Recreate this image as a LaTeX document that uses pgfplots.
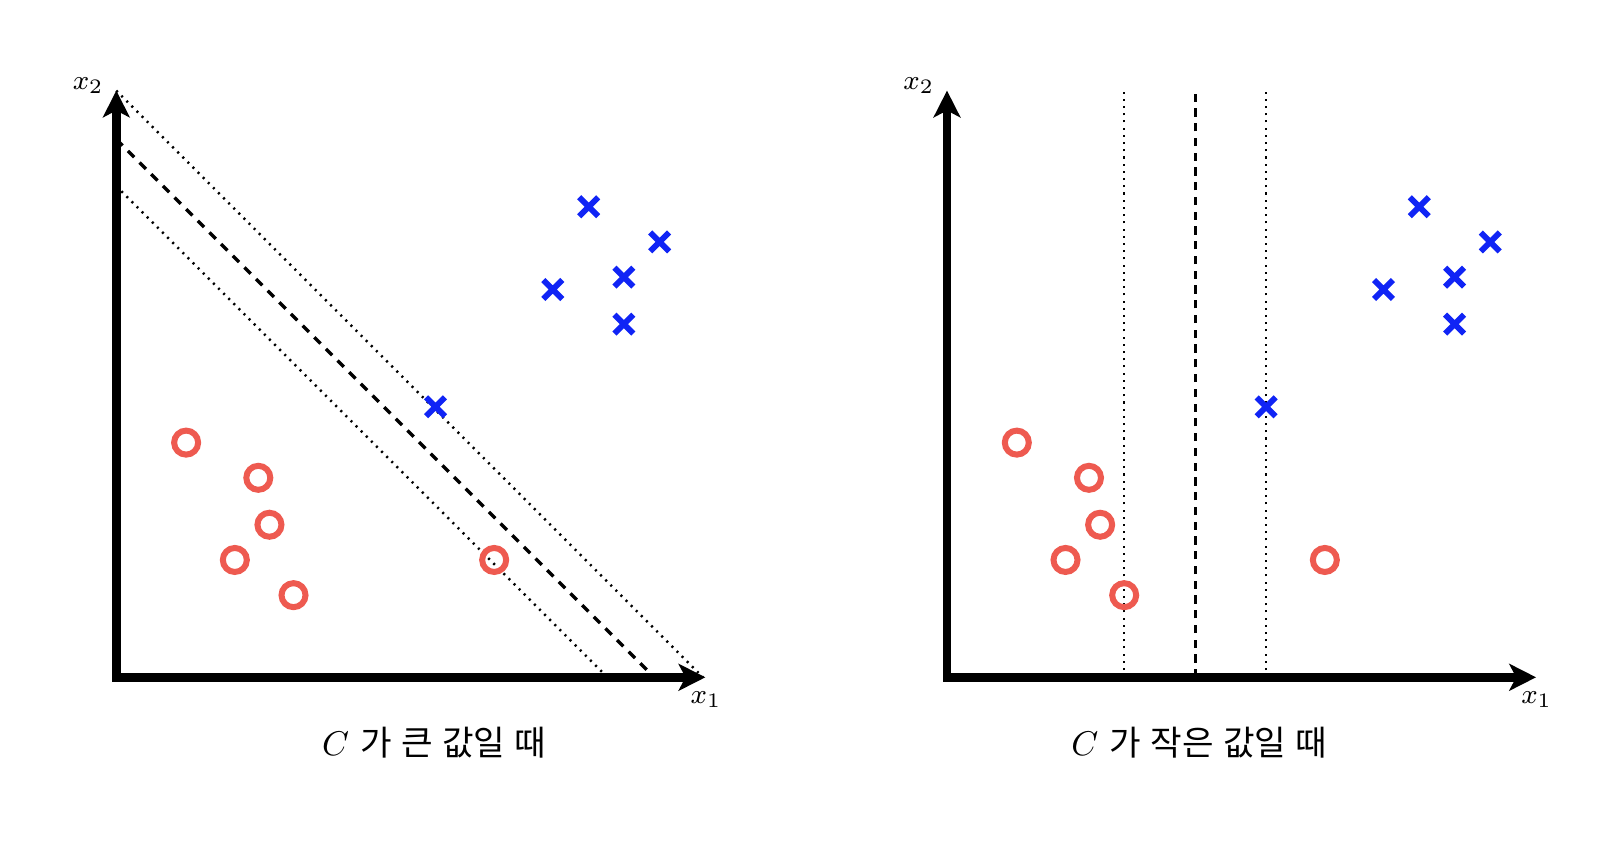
\documentclass[border=0pt]{standalone}
\usepackage{pgfplots}
\pgfplotsset{compat=1.18}
\usepackage{fontspec}
\newfontfamily\krfont{Noto Sans CJK KR}
\usetikzlibrary{arrows.meta}
\definecolor{mblue}{RGB}{16,36,245}
\definecolor{mred}{RGB}{238,90,80}
\pgfplotsset{
  panel/.style={
    anchor=south west, x=17.1pt, y=17.1pt,
    xmin=0, xmax=10.04, ymin=0, ymax=10.0,
    hide axis, clip=false,
  },
  circ/.style={only marks, mark=o, mark size=3.5pt, color=mred, mark options={line width=1.75pt}},
  crs/.style={only marks, mark=x, mark size=3.9pt, color=mblue, mark options={line width=1.7pt}},
  dotl/.style={no marks, black, line width=0.72pt, dash pattern=on 0.6pt off 1.5pt},
  dashl/.style={no marks, black, line width=0.95pt, dash pattern=on 2.6pt off 2.2pt},
}
\begin{document}
\begin{tikzpicture}
\useasboundingbox (0,0) rectangle (470.4pt,-245.4pt);
% ---------- left panel ----------
\begin{axis}[panel, at={(33.9pt,-197.4pt)}]
\addplot[dotl] coordinates {(0,10.0) (10.0,0)};
\addplot[dashl] coordinates {(0,9.17) (9.17,0)};
\addplot[dotl] coordinates {(0,8.37) (8.37,0)};
\addplot[circ] coordinates {(1.19,4.00) (2.42,3.40) (2.61,2.60) (2.02,2.00) (3.02,1.40) (6.44,2.00)};
\addplot[crs] coordinates {(8.05,8.02) (9.26,7.42) (8.65,6.82) (7.44,6.61) (8.65,6.02) (5.44,4.61)};
\draw[line width=2.6pt, {Stealth[length=7.8pt,width=7.8pt,inset=2pt]}-{Stealth[length=7.8pt,width=7.8pt,inset=2pt]}]
  (axis cs:0,10.0) -- (axis cs:0,0) -- (axis cs:10.04,0);
\node[font=\fontsize{8}{9}\selectfont] at (axis cs:10.05,-0.38) {$x_1$};
\node[font=\fontsize{8}{9}\selectfont] at (axis cs:-0.48,10.09) {$x_2$};
\node[font=\fontsize{10}{12}\selectfont] at (axis cs:5.42,-1.12) {$C$ \krfont 가\hspace{0.05em} 큰\hspace{0.05em} 값일\hspace{0.05em} 때};
\end{axis}
% ---------- right panel ----------
\begin{axis}[panel, at={(276pt,-197.4pt)}]
\addplot[dotl] coordinates {(3.02,0) (3.02,10.0)};
\addplot[dashl, dash pattern=on 2.4pt off 1.9pt] coordinates {(4.23,0) (4.23,10.0)};
\addplot[dotl] coordinates {(5.44,0) (5.44,10.0)};
\addplot[circ] coordinates {(1.19,4.00) (2.42,3.40) (2.61,2.60) (2.02,2.00) (3.02,1.40) (6.44,2.00)};
\addplot[crs] coordinates {(8.05,8.02) (9.26,7.42) (8.65,6.82) (7.44,6.61) (8.65,6.02) (5.44,4.61)};
\draw[line width=2.6pt, {Stealth[length=7.8pt,width=7.8pt,inset=2pt]}-{Stealth[length=7.8pt,width=7.8pt,inset=2pt]}]
  (axis cs:0,10.0) -- (axis cs:0,0) -- (axis cs:10.04,0);
\node[font=\fontsize{8}{9}\selectfont] at (axis cs:10.05,-0.38) {$x_1$};
\node[font=\fontsize{8}{9}\selectfont] at (axis cs:-0.48,10.09) {$x_2$};
\node[font=\fontsize{10}{12}\selectfont] at (axis cs:4.30,-1.12) {$C$ \krfont 가\hspace{0.05em} 작은\hspace{0.05em} 값일\hspace{0.05em} 때};
\end{axis}
\end{tikzpicture}
\end{document}
